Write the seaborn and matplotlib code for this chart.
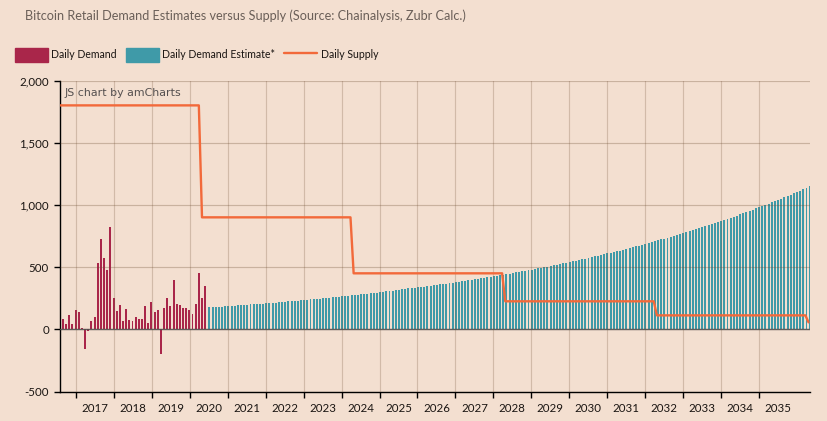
import numpy as np
import matplotlib
matplotlib.use("Agg")
import matplotlib.pyplot as plt
from matplotlib.patches import Patch
from matplotlib.lines import Line2D
import seaborn as sns

# monthly values, first bar is Aug 2016
daily_demand = [83, 43, 115, 43, 155, 140, 11, -158, -11, 67, 100, 535, 728, 575, 478, 825,
                252, 148, 196, 67, 164, 75, 67, 100, 83, 83, 188, 51, 220, 140, 156, -199,
                172, 252, 188, 398, 204, 196, 172, 172, 156, 124, 204, 454, 252, 349]

demand_estimate = [181, 181, 181, 181, 182, 186, 188, 189, 190, 194, 196, 197, 198, 201, 203, 205,
                   206, 207, 210, 212, 213, 214, 217, 219, 221, 224, 226, 228, 229, 232, 234, 237,
                   241, 243, 245, 246, 250, 252, 254, 258, 259, 261, 265, 267, 269, 273, 275, 277,
                   282, 285, 287, 291, 293, 295, 299, 301, 306, 309, 311, 316, 318, 324, 326, 328,
                   332, 334, 340, 342, 344, 349, 350, 356, 358, 364, 366, 368, 373, 374, 381, 382,
                   389, 390, 396, 398, 405, 406, 412, 414, 420, 422, 429, 430, 436, 438, 444, 446,
                   454, 458, 462, 468, 470, 476, 478, 486, 493, 494, 501, 502, 510, 517, 518, 525,
                   533, 534, 541, 549, 550, 557, 565, 566, 573, 581, 589, 590, 598, 606, 614, 615,
                   622, 630, 631, 638, 646, 654, 662, 670, 671, 678, 686, 694, 702, 710, 719,
                   723, 727, 735, 743, 751, 759, 767, 775, 784, 792, 800, 808, 816, 824, 832, 840,
                   848, 856, 864, 872, 880, 888, 896, 904, 912, 928, 936, 944, 952, 961, 977, 985,
                   993, 1001, 1009, 1025, 1033, 1041, 1049, 1065, 1073, 1081, 1097, 1105, 1113, 1129, 1137, 1154]

supply_levels = [1800, 900, 450, 225, 112, 56]
supply_months = [45, 48, 48, 48, 48, 1]

years = list(range(2017, 2036))
y_ticks = [-500, 0, 500, 1000, 1500, 2000]

title = "Bitcoin Retail Demand Estimates versus Supply (Source: Chainalysis, Zubr Calc.)"

BG = "#f3dfd0"
RED = "#a9264a"
TEAL = "#3f9aa8"
ORANGE = "#f2693a"
TEXT = "#1a1512"

sns.set_theme(style="white")
plt.rcParams["font.family"] = ["Lato", "DejaVu Sans"]

W, H = 827, 421
fig = plt.figure(figsize=(W / 100, H / 100), dpi=100, facecolor=BG)
ax = fig.add_axes([60.5 / W, 1 - 391.5 / H, 749 / W, 311 / H], facecolor=BG)

idx_demand = np.arange(len(daily_demand))
# estimate bars sit a touch later than the monthly slot, there is a small gap after the red ones
idx_estimate = np.arange(len(demand_estimate)) + len(daily_demand) + 0.35
supply = np.repeat(supply_levels, supply_months)
idx_supply = np.arange(len(supply)) - 1

sns.barplot(x=idx_demand, y=daily_demand, color=RED, saturation=1, width=0.62,
            native_scale=True, linewidth=0, edgecolor="none", ax=ax)
sns.barplot(x=idx_estimate, y=demand_estimate, color=TEAL, saturation=1, width=0.62,
            native_scale=True, linewidth=0, edgecolor="none", ax=ax)
sns.lineplot(x=idx_supply, y=supply, color=ORANGE, linewidth=1.7, zorder=4, ax=ax)

ax.set_xlim(-0.79, 236.3)
ax.set_ylim(-500, 2000)

# year ticks sit on 1 Jan, labels centred inside the year
year_pos = [4.21 + 12 * k for k in range(len(years))]
ax.set_xticks(year_pos)
ax.set_xticklabels([])
ax.set_xticks([p + 6 for p in year_pos], minor=True)
ax.set_xticklabels([str(y) for y in years], minor=True, fontsize=8.3, color=TEXT)
ax.tick_params(axis="x", which="major", direction="out", length=4.3, width=1, color="black", bottom=True)
ax.tick_params(axis="x", which="minor", length=0, pad=8, bottom=False)

ax.set_yticks(y_ticks)
ax.set_yticklabels([f"{v:,}" for v in y_ticks], fontsize=8.3, color=TEXT)
ax.tick_params(axis="y", direction="out", length=4.3, width=1, color="black", left=True, pad=4)

ax.set_axisbelow(False)
ax.grid(True, axis="y", color="#6b4a30", alpha=0.3, linewidth=0.85, zorder=2.5)
ax.grid(True, axis="x", color="#7a5c42", alpha=0.28, linewidth=0.85, zorder=0.5)
ax.axhline(0, color="#4f4f4f", linewidth=1, alpha=0.85, zorder=3)
ax.set_xlabel("")
ax.set_ylabel("")

sns.despine(ax=ax, top=True, right=True)
for side in ["left", "bottom"]:
    ax.spines[side].set_color("black")
    ax.spines[side].set_linewidth(1)

fig.text(25 / W, 1 - 16 / H, title, fontsize=9.05, color="#6a5f58", va="center", ha="left")
fig.text(65 / W, 1 - 93.5 / H, "JS chart by amCharts", fontsize=7.9, color="#555050",
         family="DejaVu Sans", va="center", ha="left")

handles = [Patch(color=RED, label="Daily Demand"),
           Patch(color=TEAL, label="Daily Demand Estimate*"),
           Line2D([0], [0], color=ORANGE, linewidth=1.7, label="Daily Supply")]
leg = fig.legend(handles=handles, ncol=3, loc="center left", bbox_to_anchor=(15 / W, 1 - 55 / H),
                 frameon=False, fontsize=7.6, handlelength=3.1, handleheight=1.65,
                 handletextpad=0.35, columnspacing=0.85, borderpad=0, borderaxespad=0,
                 labelcolor=TEXT)

fig.savefig("out.png", dpi=100, facecolor=BG)
